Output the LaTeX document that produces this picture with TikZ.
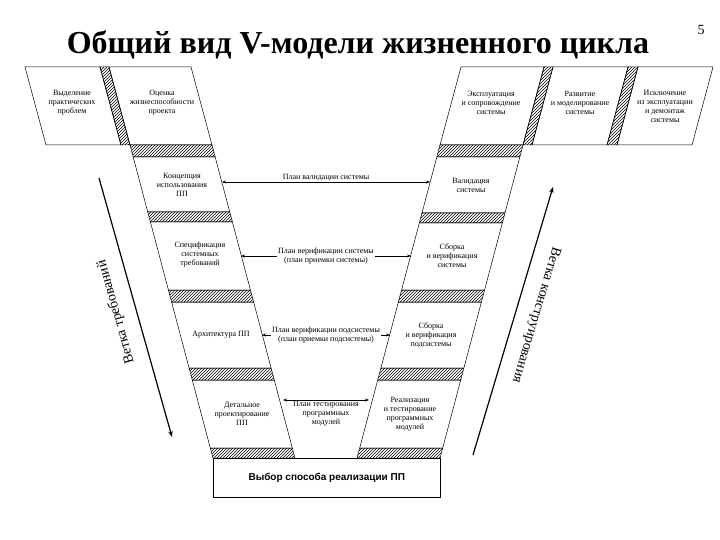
\documentclass[tikz,border=0pt]{standalone}
\usepackage{fontspec}
\setmainfont{Liberation Serif}
\newfontfamily\sansf{Liberation Sans}
\usetikzlibrary{patterns,arrows.meta}
\newcommand\Lrow[3]{\path[#3] ({130+0.265*(#1-145)},#1) -- ({212+0.265*(#1-145)},#1) -- ({212+0.265*(#2-145)},#2) -- ({130+0.265*(#2-145)},#2) -- cycle;}
\newcommand\Rrow[3]{\path[#3] ({440-0.265*(#1-145)},#1) -- ({523-0.265*(#1-145)},#1) -- ({523-0.265*(#2-145)},#2) -- ({440-0.265*(#2-145)},#2) -- cycle;}
\begin{document}
\begin{tikzpicture}[x=1pt,y=-1pt,
  boxline/.style={draw,line width=0.5pt},
  hatch/.style={draw,line width=0.5pt,pattern=north east lines},
  txt/.style={font=\fontsize{8}{9}\selectfont,align=center,inner sep=1pt},
  plan/.style={font=\fontsize{8}{9}\selectfont,align=center,fill=white,inner sep=1pt},
  arr/.style={{Stealth[length=4pt]}-{Stealth[length=4pt]},line width=0.5pt},
  side/.style={-{Stealth[length=6pt]},line width=1.2pt}]
\useasboundingbox (0,0) rectangle (720,540);
\node[font=\bfseries\fontsize{32}{34}\selectfont] (title) at (358,45) {Общий вид V-модели жизненного цикла};
\node[font=\fontsize{14}{16}\selectfont] (pg) at (701,30) {5};
% top left
\path[boxline] (25,67)--(100,67)--(121,145)--(46,145)--cycle;
\path[hatch] (100,67)--(109,67)--(130,145)--(121,145)--cycle;
\path[boxline] (109,67)--(191,67)--(212,145)--(130,145)--cycle;
% top right
\path[boxline] (461,67)--(544,67)--(523,145)--(440,145)--cycle;
\path[hatch] (544,67)--(553,67)--(532,145)--(523,145)--cycle;
\path[boxline] (553,67)--(628,67)--(607,145)--(532,145)--cycle;
\path[hatch] (628,67)--(638,67)--(617,145)--(607,145)--cycle;
\path[boxline] (638,67)--(713,67)--(692,145)--(617,145)--cycle;
% left arm
\Lrow{145}{157}{hatch}
\Lrow{157}{212}{boxline}
\Lrow{212}{222}{hatch}
\Lrow{222}{290}{boxline}
\Lrow{290}{302}{hatch}
\Lrow{302}{368}{boxline}
\Lrow{368}{380}{hatch}
\Lrow{380}{448}{boxline}
\Lrow{448}{458}{hatch}
% right arm
\Rrow{145}{157}{hatch}
\Rrow{157}{213}{boxline}
\Rrow{213}{223}{hatch}
\Rrow{223}{290}{boxline}
\Rrow{290}{302}{hatch}
\Rrow{302}{368}{boxline}
\Rrow{368}{380}{hatch}
\Rrow{380}{448}{boxline}
\Rrow{448}{458}{hatch}
% bottom box
\node[draw,line width=0.5pt,minimum width=227pt,minimum height=39pt,anchor=north west,inner sep=0pt,font=\sansf\bfseries\fontsize{10}{11}\selectfont] (impl) at (213,458) {Выбор способа реализации ПП};
% texts
\node[txt] (t1) at (72,103) {Выделение\\практических\\проблем};
\node[txt] (t2) at (162,103) {Оценка\\жизнеспособности\\проекта};
\node[txt] (t3) at (491,103) {Эксплуатация\\и сопровождение\\системы};
\node[txt] (t4) at (580,103) {Развитие\\и моделирование\\системы};
\node[txt] (t5) at (665,106) {Исключение\\из эксплуатации\\и демонтаж\\системы};
\node[txt] (c1) at (182,185) {Концепция\\использования\\ПП};
\node[txt] (c2) at (200,255) {Спецификация\\системных\\требований};
\node[txt] (c3) at (221,335) {Архитектура ПП};
\node[txt] (c4) at (242,414) {Детальное\\проектирование\\ПП};
\node[txt] (r1) at (471,185) {Валидация\\системы};
\node[txt] (r2) at (452,256) {Сборка\\и верификация\\системы};
\node[txt] (r3) at (431,335) {Сборка\\и верификация\\подсистемы};
\node[txt] (r4) at (410,414) {Реализация\\и тестирование\\программных\\модулей};
% arrows
\coordinate (a1l) at (222,182); \coordinate (a1r) at (430,182);
\coordinate (a2l) at (241,256); \coordinate (a2r) at (411,256);
\coordinate (a3l) at (262,335); \coordinate (a3r) at (390,335);
\coordinate (a4l) at (283,400); \coordinate (a4r) at (369,400);
\draw[arr] (a1l) -- (a1r);
\draw[arr] (a2l) -- (a2r);
\draw[arr] (a3l) -- (a3r);
\draw[arr] (a4l) -- (a4r);
\node[plan] (p1) at (326,178) {План валидации системы};
\node[plan] (p2) at (326,256) {План верификации системы\\(план приемки системы)};
\node[plan] (p3) at (326,335) {План верификации подсистемы\\(план приемки подсистемы)};
\node[plan] (p4) at (326,414) {План тестирования\\программных\\модулей};
% side arrows
\coordinate (s1a) at (99,178); \coordinate (s1b) at (172,437);
\coordinate (s2a) at (473,455); \coordinate (s2b) at (553,187);
\draw[side] (s1a) -- (s1b);
\draw[side] (s2a) -- (s2b);
\node[font=\fontsize{14}{16}\selectfont,rotate=105.7] (v1) at (116,312) {Ветка требований};
\node[font=\fontsize{14}{16}\selectfont,rotate=-106.6] (v2) at (536,315) {Ветка конструирования};
\end{tikzpicture}
\end{document}
